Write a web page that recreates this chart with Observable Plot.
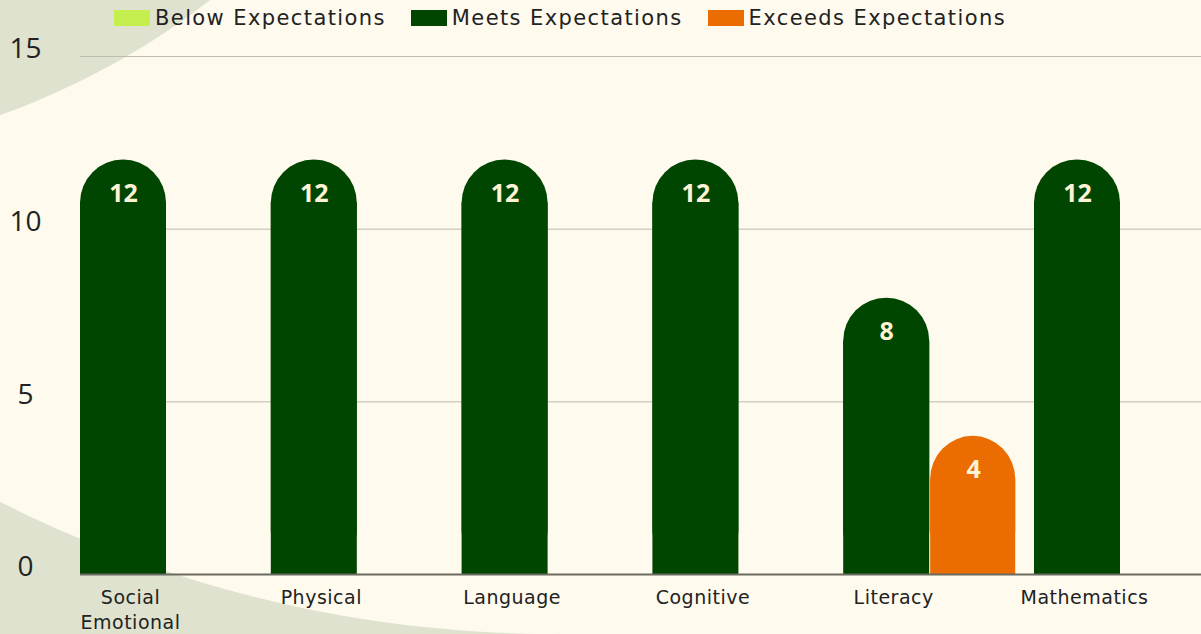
<!DOCTYPE html>
<html><head><meta charset="utf-8">
<script src="https://cdn.jsdelivr.net/npm/d3@7"></script>
<script src="https://cdn.jsdelivr.net/npm/@observablehq/plot@0.6"></script>
<style>
html,body{margin:0;padding:0;width:1201px;height:634px;overflow:hidden;background:#fefaee;font-family:"Open Sans",sans-serif;}
#bg{position:absolute;left:0;top:0;}
#chart{position:absolute;left:0;top:0;}
#chart svg{max-width:none !important;}
#chart svg g[aria-label="x-axis tick label"] text{letter-spacing:0.5px;}
#legend{position:absolute;left:114px;top:6px;display:flex;align-items:center;font-family:"DejaVu Sans",sans-serif;font-size:21px;letter-spacing:1.4px;color:#222;white-space:nowrap;}
.item{display:flex;align-items:center;margin-right:25px;}
.sw{width:36px;height:16px;margin-right:5px;}
</style></head><body>
<svg id="bg" width="1201" height="634">
  <rect x="0" y="380" width="560" height="254" fill="#dfe2cf"/>
  <circle cx="554" cy="-593" r="1227" fill="#fefaee"/>
  <circle cx="-254" cy="-598" r="757" fill="#dfe2cf"/>
</svg>
<div id="chart"></div>
<div id="legend"></div>
<script>
const categories = ["Social Emotional", "Physical", "Language", "Cognitive", "Literacy", "Mathematics"];
const seriesNames = ["Below Expectations", "Meets Expectations", "Exceeds Expectations"];
const seriesColors = ["#c5ee4f", "#004600", "#eb6c00"];
const below = [0, 0, 0, 0, 0, 0];
const meets = [12, 12, 12, 12, 8, 12];
const exceeds = [0, 0, 0, 0, 4, 0];
const yTicks = [0, 5, 10, 15];

const meetsData = categories.map((c, i) => ({cat: c, value: meets[i]}));
const exceedsData = categories.map((c, i) => ({cat: c, value: exceeds[i]}));
const belowData = categories.map((c, i) => ({cat: c, value: below[i]}));

const R = 43;
function barMarks(data, fill, side) {
  const inset = side === "left" ? {insetRight: 86} : {insetLeft: 87};
  const f = d => d.value > 0;
  return [
    Plot.barY(data, {x: "cat", y: "value", fill, rx: R, ry: R, filter: f, ...inset}),
    Plot.barY(data, {x: "cat", y: "value", fill, insetTop: R, filter: f, ...inset}),
    Plot.text(data, {x: "cat", y: "value", text: d => String(d.value), filter: f,
      dx: side === "left" ? -43 : 44, dy: 34, fill: "#fff3d6", fontSize: 25, fontWeight: 700})
  ];
}

const chart = Plot.plot({
  width: 1206,
  height: 634,
  marginLeft: 80,
  marginRight: 0,
  marginTop: 56,
  marginBottom: 60,
  style: {background: "transparent", fontFamily: "'Open Sans', sans-serif", color: "#222", overflow: "visible", maxWidth: "none"},
  x: {domain: categories, paddingInner: 0.0985, paddingOuter: 0, round: false, label: null},
  y: {domain: [0, 15], label: null},
  marks: [
    Plot.gridY(yTicks.filter(t => t > 0), {stroke: "#bdbcae", strokeOpacity: 1, strokeWidth: 1}),
    ...barMarks(belowData, seriesColors[0], "left").slice(0, 0),
    ...barMarks(meetsData, seriesColors[1], "left"),
    ...barMarks(exceedsData, seriesColors[2], "right"),
    Plot.ruleY([0], {stroke: "#6b6a60", strokeWidth: 2}),
    Plot.axisY({ticks: yTicks, tickSize: 0, tickPadding: 55, textAnchor: "middle", fontSize: 28, dy: -7, label: null}),
    Plot.axisX({tickSize: 0, tickPadding: 11, fontSize: 19, dx: -36, lineHeight: 1.35,
      fontFamily: "'DejaVu Sans', sans-serif",
      tickFormat: d => d.replace(" ", "\n"), label: null})
  ]
});
document.getElementById("chart").appendChild(chart);

const legend = document.getElementById("legend");
seriesNames.forEach((name, i) => {
  const item = document.createElement("div");
  item.className = "item";
  const sw = document.createElement("div");
  sw.className = "sw";
  sw.style.background = seriesColors[i];
  const label = document.createElement("span");
  label.textContent = name;
  item.appendChild(sw);
  item.appendChild(label);
  legend.appendChild(item);
});
</script>
</body></html>
